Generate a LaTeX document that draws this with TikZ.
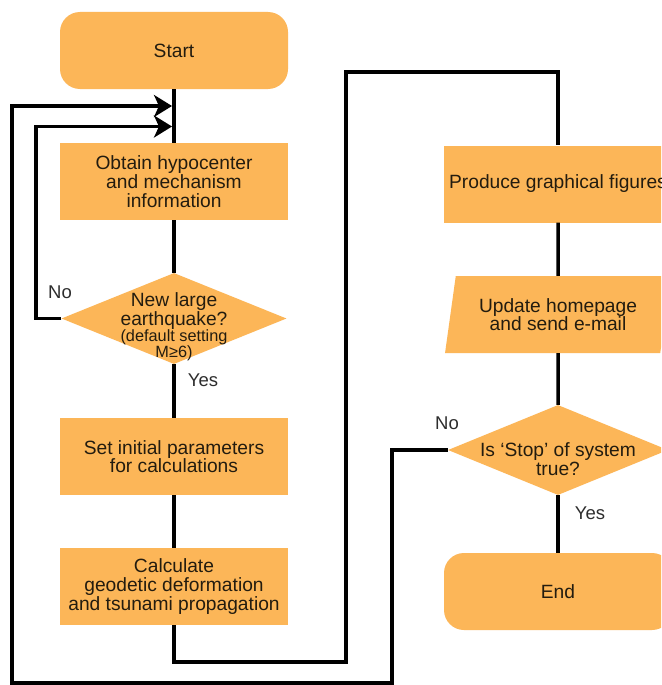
\documentclass[tikz,border=0pt]{standalone}
\usepackage{fontspec}
\setmainfont{Liberation Sans}
\usetikzlibrary{shapes.geometric,arrows.meta}
\definecolor{boxfill}{RGB}{252,182,88}
\definecolor{txt}{RGB}{35,28,15}
\definecolor{lbl}{RGB}{45,45,45}
\begin{document}
\begin{tikzpicture}[x=1pt,y=-1pt,
  proc/.style={rectangle,fill=boxfill,minimum width=228pt,minimum height=77pt,inner sep=0pt,align=center,text=txt,font=\fontsize{19.2}{18.7}\selectfont},
  term/.style={proc,rounded corners=20pt},
  dec/.style={diamond,fill=boxfill,inner sep=0pt},
  io/.style={trapezium,trapezium left angle=77,trapezium right angle=103,trapezium stretches=true,fill=boxfill,minimum width=226pt,minimum height=77pt,inner sep=2pt,align=center,text=txt,font=\fontsize{19.2}{18.7}\selectfont},
  bigtxt/.style={align=center,text=txt,inner sep=0pt,font=\fontsize{19.2}{18.5}\selectfont},
  smalltxt/.style={align=center,text=txt,inner sep=0pt,font=\fontsize{16.3}{14}\selectfont},
  yn/.style={text=lbl,inner sep=0pt,font=\fontsize{18.5}{18}\selectfont},
  conn/.style={line width=3.5pt,draw=black},
  arr/.style={conn,-{Stealth[length=18pt,width=22pt,inset=5pt]}}
]
\clip (0,0) rectangle (661,685);
\fill[white] (0,0) rectangle (661,685);
% left column
\node[term] (start) at (174,50.5) {Start};
\node[proc] (obtain) at (174,181.5) {Obtain hypocenter\\and mechanism\\information};
\node[dec,minimum width=225pt,minimum height=91pt] (d1) at (174,318.5) {};
\node[bigtxt] (d1a) at (174,311) {New large\\earthquake?};
\node[smalltxt] (d1b) at (174,345) {(default setting\\M≥6)};
\node[proc] (setp) at (174,456.5) {Set initial parameters\\for calculations};
\node[proc] (calc) at (174,586.5) {Calculate\\geodetic deformation\\and tsunami propagation};
% right column
\node[proc] (prod) at (558,184) {Produce graphical figures};
\node[io] (upd) at (558,314.5) {Update homepage\\and send e-mail};
\node[dec,minimum width=220pt,minimum height=90pt] (stop) at (558,450) {};
\node[bigtxt] (stopt) at (558,459) {Is ‘Stop’ of system\\true?};
\node[term] (end) at (558,591.5) {End};
% labels
\node[yn] (no1) at (60,292) {No};
\node[yn] (yes1) at (203,380) {Yes};
\node[yn] (no2) at (447,423) {No};
\node[yn] (yes2) at (590,513) {Yes};
% coordinates
\coordinate (c1) at (346,662);
\coordinate (c2) at (346,72);
\coordinate (o1) at (392,683);
\coordinate (o2) at (12,106);
\coordinate (a1) at (172,106);
\coordinate (i1) at (36,126.5);
\coordinate (a2) at (172,126.5);
% connectors
\draw[conn] (start) -- (obtain);
\draw[conn] (obtain) -- (d1);
\draw[conn] (d1) -- (setp);
\draw[conn] (setp) -- (calc);
\draw[conn] (calc.south) |- (c1) -- (c2) -| (prod.north);
\draw[conn] (prod) -- (upd);
\draw[conn] (upd) -- (stop);
\draw[conn] (stop) -- (end);
\draw[arr] (stop.west) -| (o1) -| (o2) -- (a1);
\draw[arr] (d1.west) -| (i1) -- (a2);
\end{tikzpicture}
\end{document}
